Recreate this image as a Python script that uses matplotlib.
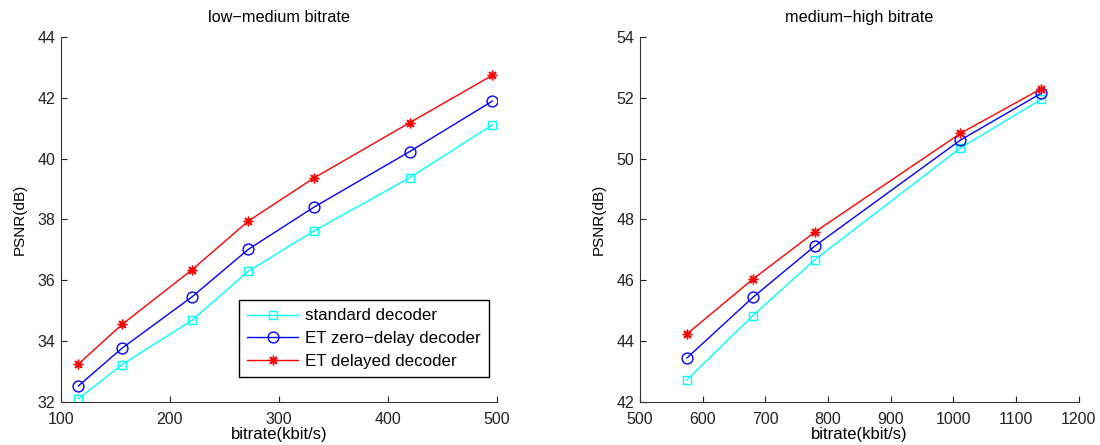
import matplotlib
matplotlib.use("Agg")
import matplotlib.pyplot as plt

plt.rcParams['font.family'] = ['Liberation Sans', 'DejaVu Sans']
plt.rcParams['font.size'] = 11.5

labels = ['standard decoder', 'ET zero\u2212delay decoder', 'ET delayed decoder']

# low-medium bitrate
rate_low = [116, 156, 220, 272, 332, 420, 496]
std_low = [32.11, 33.23, 34.68, 36.30, 37.62, 39.37, 41.11]
zero_low = [32.53, 33.77, 35.45, 37.02, 38.40, 40.23, 41.89]
delay_low = [33.25, 34.55, 36.34, 37.95, 39.36, 41.18, 42.74]

# medium-high bitrate
rate_high = [575, 680, 779, 1011, 1140]
std_high = [42.73, 44.84, 46.68, 50.35, 51.95]
zero_high = [43.45, 45.44, 47.13, 50.61, 52.15]
delay_high = [44.24, 46.04, 47.59, 50.83, 52.30]

styles = [dict(color='cyan', marker='s', ms=6, mfc='none'),
          dict(color='blue', marker='o', ms=7.8, mfc='none'),
          dict(color='red', marker=(8, 2, 0), ms=7)]

fig = plt.figure(figsize=(11, 4.45), dpi=100)
ax1 = fig.add_axes([0.0555, 0.0966, 0.396, 0.8203])
ax2 = fig.add_axes([0.5818, 0.0966, 0.399, 0.8203])

for ax, x, series in [(ax1, rate_low, [std_low, zero_low, delay_low]),
                      (ax2, rate_high, [std_high, zero_high, delay_high])]:
    for y, st, lab in zip(series, styles, labels):
        ax.plot(x, y, lw=1, mew=1, label=lab, **st)
    ax.spines['top'].set_visible(False)
    ax.spines['right'].set_visible(False)
    for s in ax.spines.values():
        s.set_color('#333333')
    ax.tick_params(direction='in', length=4, labelsize=11.5, colors='#222222')
    ax.tick_params(axis='x', pad=7)
    ax.tick_params(axis='y', pad=4)
    ax.set_xlabel('bitrate(kbit/s)', fontsize=12, labelpad=0)
    ax.set_ylabel('PSNR(dB)', fontsize=11, labelpad=8)

ax1.set_xlim(100, 500)
ax1.set_ylim(32, 44)
ax1.set_xticks(range(100, 501, 100))
ax1.set_yticks(range(32, 45, 2))
ax1.set_title('low\u2212medium bitrate', fontsize=11.7, pad=11)

ax2.set_xlim(500, 1200)
ax2.set_ylim(42, 54)
ax2.set_xticks(range(500, 1201, 100))
ax2.set_yticks(range(42, 55, 2))
ax2.set_title('medium\u2212high bitrate', fontsize=11.7, pad=11)

leg = ax1.legend(loc='lower right', bbox_to_anchor=(0.982, 0.068), borderaxespad=0,
                 fontsize=12.2, fancybox=False, edgecolor='black', framealpha=1,
                 handlelength=3.0, handletextpad=0.4, borderpad=0.5,
                 labelspacing=0.45)
leg.get_frame().set_linewidth(1)

fig.savefig('out.png', dpi=100)
